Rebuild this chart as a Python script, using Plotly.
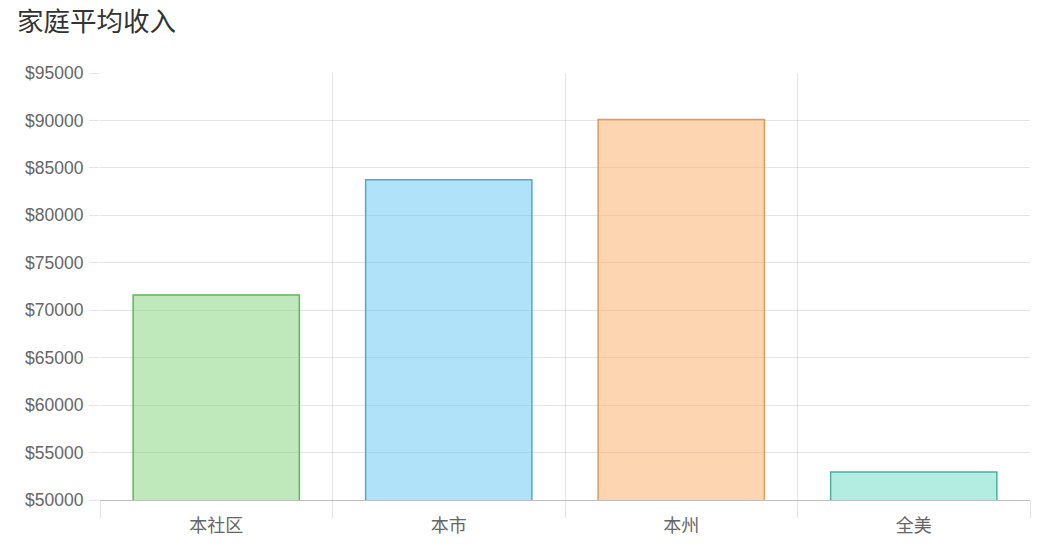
""" 家庭平均收入 - bar chart"""

# imports
from plotly.graph_objects import Bar, Figure

# data
categories = ["本社区", "本市", "本州", "全美"]
incomes = [71600, 83750, 90100, 52950]
fill_colors = ["rgba(129,212,120,0.5)", "rgba(97,200,245,0.5)",
               "rgba(251,171,99,0.5)", "rgba(103,219,195,0.5)"]
line_colors = ["#5cb85c", "#46b0cc", "#e59a55", "#45b39d"]

FONT = "Liberation Sans, Noto Sans CJK SC, sans-serif"
CJK = "Noto Sans CJK SC, sans-serif"
GRID = "rgba(0,0,0,0.1)"


def main():
    """le main"""
    fig = Figure()
    fig.add_trace(Bar(x=categories, y=incomes,
                      marker=dict(color=fill_colors,
                                  line=dict(color=line_colors, width=1.5))))

    # la page a une marge de 8px : la figure est donc un peu plus petite
    fig.update_layout(
        width=1031, height=533,
        margin=dict(l=92, r=9, t=65, b=41),
        paper_bgcolor="white", plot_bgcolor="white",
        showlegend=False, bargap=0.285,
        font=dict(family=FONT, size=17, color="#666666"),
        title=dict(text="家庭平均收入", x=0.0087, xanchor="left",
                   y=1, yanchor="top", pad=dict(t=4, b=0),
                   font=dict(family=CJK, size=26.5, color="#333333")),
    )
    fig.update_xaxes(range=[-0.5, 3.5], tickson="boundaries",
                     showgrid=True, gridcolor=GRID, gridwidth=1,
                     ticks="outside", ticklen=17, tickcolor=GRID,
                     ticklabelstandoff=9, automargin=False,
                     showline=True, linecolor="rgba(0,0,0,0.25)",
                     tickfont=dict(family=CJK, size=18, color="#666666"))
    fig.update_yaxes(range=[50000, 95000], dtick=5000, tickprefix="$",
                     showgrid=True, gridcolor=GRID, gridwidth=1,
                     ticks="outside", ticklen=10, tickcolor=GRID,
                     ticklabelstandoff=2, automargin=False,
                     zeroline=False, tickformat="d",
                     tickfont=dict(family=FONT, size=17.5, color="#666666"))

    fig.write_html("out.html")


if __name__ == "__main__":
    main()
